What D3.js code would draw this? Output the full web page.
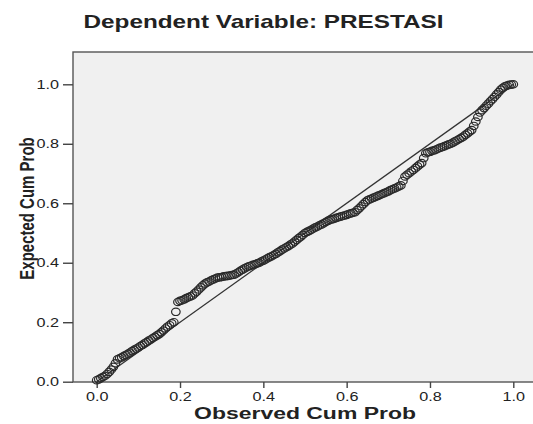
<!DOCTYPE html>
<html>
<head>
<meta charset="utf-8">
<script src="https://cdn.jsdelivr.net/npm/d3@7"></script>
<style>
  body { margin: 0; background: #fff; }
  text { font-family: "Liberation Sans", Arial, sans-serif; fill: #222; }
</style>
</head>
<body>
<script>
const w = 533;
const h = 424;

const titleText = "Dependent Variable: PRESTASI";
const xLabel = "Observed Cum Prob";
const yLabel = "Expected Cum Prob";
const tickValues = [0.0, 0.2, 0.4, 0.6, 0.8, 1.0];

// observed cum prob (x) and expected cum prob (y)
const observed = [
  0.000, 0.005, 0.010, 0.015, 0.020, 0.025, 0.030, 0.035, 0.040, 0.045,
  0.050, 0.055, 0.060, 0.065, 0.070, 0.075, 0.080, 0.085, 0.090, 0.095,
  0.100, 0.105, 0.110, 0.115, 0.120, 0.125, 0.130, 0.135, 0.140, 0.145,
  0.150, 0.155, 0.160, 0.165, 0.170, 0.175, 0.180, 0.185, 0.190, 0.195,
  0.200, 0.205, 0.210, 0.215, 0.220, 0.225, 0.230, 0.235, 0.240, 0.245,
  0.250, 0.255, 0.260, 0.265, 0.270, 0.275, 0.280, 0.285, 0.290, 0.295,
  0.300, 0.305, 0.310, 0.315, 0.320, 0.325, 0.330, 0.335, 0.340, 0.345,
  0.350, 0.355, 0.360, 0.365, 0.370, 0.375, 0.380, 0.385, 0.390, 0.395,
  0.400, 0.405, 0.410, 0.415, 0.420, 0.425, 0.430, 0.435, 0.440, 0.445,
  0.450, 0.455, 0.460, 0.465, 0.470, 0.475, 0.480, 0.485, 0.490, 0.495,
  0.500, 0.505, 0.510, 0.515, 0.520, 0.525, 0.530, 0.535, 0.540, 0.545,
  0.550, 0.555, 0.560, 0.565, 0.570, 0.575, 0.580, 0.585, 0.590, 0.595,
  0.600, 0.605, 0.610, 0.615, 0.620, 0.625, 0.630, 0.635, 0.640, 0.645,
  0.650, 0.655, 0.660, 0.665, 0.670, 0.675, 0.680, 0.685, 0.690, 0.695,
  0.700, 0.705, 0.710, 0.715, 0.720, 0.725, 0.730, 0.735, 0.740, 0.745,
  0.750, 0.755, 0.760, 0.765, 0.770, 0.775, 0.780, 0.785, 0.790, 0.795,
  0.800, 0.805, 0.810, 0.815, 0.820, 0.825, 0.830, 0.835, 0.840, 0.845,
  0.850, 0.855, 0.860, 0.865, 0.870, 0.875, 0.880, 0.885, 0.890, 0.895,
  0.900, 0.905, 0.910, 0.915, 0.920, 0.925, 0.930, 0.935, 0.940, 0.945,
  0.950, 0.955, 0.960, 0.965, 0.970, 0.975, 0.980, 0.985, 0.990, 0.995,
  1.000
];
const expected = [
  0.005, 0.008, 0.012, 0.016, 0.020, 0.026, 0.033, 0.041, 0.050, 0.062,
  0.075, 0.079, 0.082, 0.086, 0.090, 0.094, 0.098, 0.103, 0.107, 0.111,
  0.115, 0.120, 0.124, 0.129, 0.133, 0.138, 0.142, 0.147, 0.151, 0.156,
  0.160, 0.166, 0.172, 0.179, 0.185, 0.190, 0.196, 0.200, 0.235, 0.268,
  0.272, 0.274, 0.277, 0.281, 0.284, 0.287, 0.290, 0.297, 0.303, 0.310,
  0.317, 0.324, 0.330, 0.334, 0.337, 0.341, 0.344, 0.347, 0.350, 0.351,
  0.352, 0.354, 0.355, 0.356, 0.357, 0.359, 0.360, 0.364, 0.368, 0.373,
  0.377, 0.381, 0.385, 0.388, 0.390, 0.393, 0.395, 0.398, 0.400, 0.404,
  0.407, 0.411, 0.415, 0.419, 0.422, 0.426, 0.430, 0.435, 0.439, 0.444,
  0.448, 0.452, 0.456, 0.461, 0.465, 0.471, 0.477, 0.483, 0.488, 0.494,
  0.500, 0.504, 0.507, 0.511, 0.515, 0.519, 0.522, 0.526, 0.529, 0.533,
  0.537, 0.541, 0.544, 0.546, 0.548, 0.551, 0.553, 0.555, 0.557, 0.559,
  0.561, 0.564, 0.566, 0.568, 0.570, 0.577, 0.583, 0.590, 0.597, 0.604,
  0.610, 0.613, 0.616, 0.619, 0.622, 0.625, 0.628, 0.631, 0.634, 0.637,
  0.640, 0.644, 0.647, 0.650, 0.653, 0.657, 0.660, 0.675, 0.690, 0.696,
  0.701, 0.707, 0.712, 0.718, 0.724, 0.730, 0.735, 0.752, 0.768, 0.771,
  0.773, 0.776, 0.778, 0.781, 0.784, 0.787, 0.789, 0.792, 0.795, 0.798,
  0.800, 0.804, 0.808, 0.812, 0.816, 0.820, 0.824, 0.830, 0.835, 0.841,
  0.846, 0.860, 0.875, 0.890, 0.905, 0.913, 0.920, 0.928, 0.935, 0.943,
  0.950, 0.958, 0.966, 0.974, 0.982, 0.988, 0.993, 0.996, 0.998, 0.999,
  1.000
];

// picture is stretched sideways, so text gets the same squash
const sx = 1.35;

const svg = d3.select("body")
  .append("svg")
  .attr("width", w)
  .attr("height", h)
  ;

const plotLeft = 73, plotTop = 52, plotBottom = 382, plotRight = 545;

const xScale = d3.scaleLinear().domain([0, 1]).range([96.7, 513.3]);
const yScale = d3.scaleLinear().domain([0, 1]).range([381.7, 84.3]);

// plot background + frame
svg.append("rect")
  .attr("x", plotLeft)
  .attr("y", plotTop)
  .attr("width", plotRight - plotLeft)
  .attr("height", plotBottom - plotTop)
  .attr("fill", "#f0f0f0")
  .attr("stroke", "#555")
  .attr("stroke-width", 1.4)
  ;

// axes
const xAxis = d3.axisBottom(xScale)
  .tickValues(tickValues)
  .tickFormat(d3.format(".1f"))
  .tickSize(6)
  .tickPadding(4)
  ;
const yAxis = d3.axisLeft(yScale)
  .tickValues(tickValues)
  .tickFormat(d3.format(".1f"))
  .tickSize(10)
  .tickPadding(4)
  ;

const gx = svg.append("g")
  .attr("transform", "translate(0," + plotBottom + ")")
  .call(xAxis)
  ;
const gy = svg.append("g")
  .attr("transform", "translate(" + plotLeft + ",0)")
  .call(yAxis)
  ;

[gx, gy].forEach(g => {
  g.select(".domain").remove();
  g.selectAll(".tick line").attr("stroke", "#444").attr("stroke-width", 1.4);
  g.selectAll(".tick text")
    .style("font-size", "12px")
    .style("font-family", "'Liberation Sans', Arial, sans-serif")
    .attr("fill", "#222");
});

// stretch tick labels sideways around their own anchor
gx.selectAll(".tick text")
  .attr("transform", "scale(" + sx + ",1)");
gy.selectAll(".tick text")
  .each(function() {
    const t = d3.select(this);
    const x = +t.attr("x");
    t.attr("x", x / sx).attr("transform", "scale(" + sx + ",1)");
  });

// diagonal reference line
svg.append("line")
  .attr("x1", xScale(0))
  .attr("y1", yScale(0))
  .attr("x2", xScale(1))
  .attr("y2", yScale(1))
  .attr("stroke", "#333")
  .attr("stroke-width", 1.3)
  ;

// points
const points = observed.map((d, i) => ({ x: d, y: expected[i] }));
svg.append("g")
  .selectAll("ellipse")
  .data(points)
  .join("ellipse")
  .attr("cx", d => xScale(d.x))
  .attr("cy", d => yScale(d.y))
  .attr("rx", 4.3)
  .attr("ry", 3.7)
  .attr("fill", "none")
  .attr("stroke", "#2a2a2a")
  .attr("stroke-width", 1.2)
  ;

// titles
svg.append("text")
  .attr("transform", "translate(263.5,28) scale(" + sx + ",1)")
  .attr("text-anchor", "middle")
  .style("font-size", "18px")
  .style("font-weight", "bold")
  .text(titleText)
  ;

svg.append("text")
  .attr("transform", "translate(305,419) scale(" + sx + ",1)")
  .attr("text-anchor", "middle")
  .style("font-size", "17px")
  .style("font-weight", "bold")
  .text(xLabel)
  ;

svg.append("text")
  .attr("transform", "translate(34,208.5) scale(" + sx + ",1) rotate(-90)")
  .attr("text-anchor", "middle")
  .style("font-size", "15px")
  .style("font-weight", "bold")
  .text(yLabel)
  ;
</script>
</body>
</html>
